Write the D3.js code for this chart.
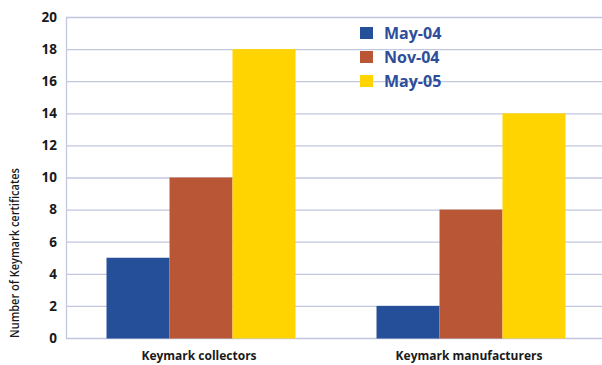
<!DOCTYPE html>
<html><head><meta charset="utf-8">
<script src="https://cdn.jsdelivr.net/npm/d3@7"></script>
<style>
html,body{margin:0;padding:0;background:#fff;}
svg{display:block;font-family:"Open Sans",sans-serif;}
</style></head>
<body><svg id="c" width="602" height="365"></svg>
<script>
const categories = ["Keymark collectors", "Keymark manufacturers"];
const seriesNames = ["May-04", "Nov-04", "May-05"];
const may04 = [5, 2];
const nov04 = [10, 8];
const may05 = [18, 14];
const yTicks = [0, 2, 4, 6, 8, 10, 12, 14, 16, 18, 20];
const colors = ["#264f99", "#b85636", "#ffd400"];

const series = [may04, nov04, may05];
const svg = d3.select("#c");
const m = {left: 66, top: 17, right: -4, bottom: 27};
const W = 602, H = 365;
const x0 = d3.scaleBand().domain(categories).range([m.left, W - m.right]).paddingInner(0).paddingOuter(0);
const x1 = d3.scaleBand().domain(seriesNames).range([0, x0.bandwidth()]).paddingOuter(0.643);
const y = d3.scaleLinear().domain([0, 20]).range([H - m.bottom, m.top]);

// gridlines
svg.append("g").selectAll("line").data(yTicks).join("line")
  .attr("x1", m.left).attr("x2", W - m.right)
  .attr("y1", d => y(d) + 0.5).attr("y2", d => y(d) + 0.5)
  .attr("stroke", "#c3c6df").attr("stroke-width", 1.3);
// left axis line
svg.append("line").attr("x1", m.left + 0.5).attr("x2", m.left + 0.5)
  .attr("y1", y(20)).attr("y2", y(0) + 1)
  .attr("stroke", "#c3c6df").attr("stroke-width", 1.3);

// bars
const data = [];
categories.forEach((c, i) => seriesNames.forEach((s, j) => data.push({c, s, v: series[j][i], j})));
svg.append("g").selectAll("rect").data(data).join("rect")
  .attr("x", d => x0(d.c) + x1(d.s))
  .attr("width", x1.bandwidth())
  .attr("y", d => y(d.v))
  .attr("height", d => y(0) - y(d.v) + 0.5)
  .attr("fill", d => colors[d.j]);

// y axis ticks
const yAxis = d3.axisLeft(y).tickValues(yTicks).tickSize(0).tickPadding(9);
const ga = svg.append("g").attr("transform", `translate(${m.left},0)`).call(yAxis);
ga.select(".domain").remove();
ga.selectAll("text").attr("font-family", "Open Sans").attr("font-weight", "bold")
  .attr("font-size", 13.5).attr("fill", "#1a1a1a");

// x axis labels
const xAxis = d3.axisBottom(x0).tickSize(0).tickPadding(13);
const gx = svg.append("g").attr("transform", `translate(0,${y(0)})`).call(xAxis);
gx.select(".domain").remove();
gx.selectAll("text").attr("font-family", "Open Sans").attr("font-weight", "bold")
  .attr("font-size", 12).attr("fill", "#1a1a1a").attr("dx", -2);

// y title
svg.append("text").attr("transform", "translate(19,253) rotate(-90)")
  .attr("text-anchor", "middle").attr("font-family", "'Open Sans'")
  .attr("font-size", 12.5).attr("font-weight", 600).attr("fill", "#1a1a1a")
  .attr("textLength", 170).attr("lengthAdjust", "spacingAndGlyphs")
  .text("Number of Keymark certificates");

// legend
const lg = svg.append("g").attr("transform", "translate(360,27)");
const li = lg.selectAll("g").data(seriesNames).join("g")
  .attr("transform", (d, i) => `translate(0,${i * 24})`);
li.append("rect").attr("width", 13).attr("height", 12).attr("fill", (d, i) => colors[i]);
li.append("text").attr("x", 24).attr("y", 12).attr("font-family", "Open Sans")
  .attr("font-weight", "bold").attr("font-size", 16).attr("fill", "#2e4d9a").text(d => d);
</script></body></html>
